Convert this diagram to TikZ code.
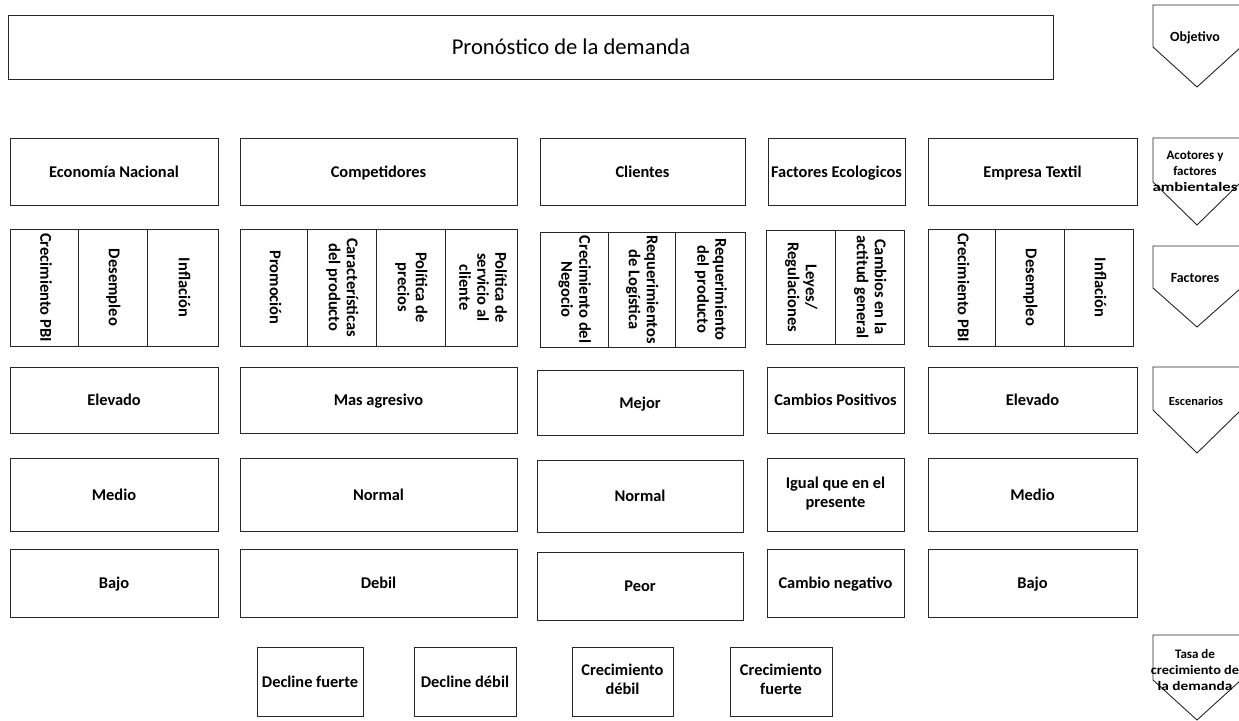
\documentclass[tikz,border=0pt]{standalone}
\usepackage{fontspec}
\setmainfont{Carlito}
\newcommand\rbox[7][hbox]{%
  \pgfmathsetmacro\cx{(#3+#5)/2}\pgfmathsetmacro\cy{(#4+#6)/2}%
  \pgfmathsetmacro\ww{#5-#3}\pgfmathsetmacro\hh{#6-#4}%
  \node[#1,minimum width=\ww pt,minimum height=\hh pt] (#2) at (\cx,\cy) {#7};}
\newcommand\vt[1]{\rotatebox{-90}{\begin{tabular}{@{}c@{}}#1\end{tabular}}}
\newcommand\penta[4]{% name, top, shoulder, tip
  \draw[pent] (1153,#2) -- (1241,#2) -- (1241,#3) -- (1197,#4) -- (1153,#3) -- cycle;}
\newcommand\topstrut{\rule{0pt}{15.5pt}}
\newcommand\botstrut{\rule[-4.5pt]{0pt}{4.5pt}}
\begin{document}
\begin{tikzpicture}[x=1pt,y=-1pt,
  box/.style={draw=black!85,line width=0.9pt,inner sep=0pt,outer sep=0pt,align=center},
  hbox/.style={box,font=\bfseries\fontsize{16.4}{19.5}\selectfont,
    execute at begin node=\topstrut,execute at end node=\botstrut},
  vbox/.style={box,font=\bfseries\fontsize{16.5}{18}\selectfont},
  title/.style={draw=black!85,line width=0.9pt,inner sep=0pt,outer sep=0pt},
  titletext/.style={inner sep=0pt,font=\fontsize{22.6}{26}\selectfont},
  pent/.style={draw=black!85,line width=0.9pt},
  plabel/.style={align=center,inner sep=0pt,font=\bfseries\fontsize{13}{16}\selectfont}]
\useasboundingbox (0,0) rectangle (1239,720);
% objective
\node[title,minimum width=1045pt,minimum height=64pt] (obj) at (530.5,47) {};
\node[titletext] (objt) at (571,49) {\strut Pronóstico de la demanda};
% actors
\rbox{a1}{10}{138}{218}{205}{Economía Nacional}
\rbox{a2}{240}{138}{517}{205}{Competidores}
\rbox{a3}{540}{138}{745}{205}{Clientes}
\rbox{a4}{768}{138}{905}{205}{Factores Ecologicos}
\rbox{a5}{928}{138}{1137}{205}{Empresa Textil}
% factors
\rbox[vbox]{f11}{10}{229}{78}{346}{\vt{Crecimiento PBI}}
\rbox[vbox]{f12}{78}{229}{147}{346}{\vt{Desempleo}}
\rbox[vbox]{f13}{147}{229}{218}{346}{\vt{Inflación}}
\rbox[vbox]{f21}{240}{229}{307}{346}{\vt{Promoción}}
\rbox[vbox]{f22}{307}{229}{376}{346}{\vt{Características\\del producto}}
\rbox[vbox]{f23}{376}{229}{445}{346}{\vt{Política de\\precios}}
\rbox[vbox]{f24}{445}{229}{517}{346}{\vt{Política de\\servicio al\\cliente}}
\rbox[vbox]{f31}{540}{232}{608}{347}{\vt{Crecimiento del\\Negocio}}
\rbox[vbox]{f32}{608}{232}{675}{347}{\vt{Requerimientos\\de Logística}}
\rbox[vbox]{f33}{675}{232}{745}{347}{\vt{Requerimiento\\del producto}}
\rbox[vbox]{f41}{766}{230}{835}{344}{\vt{Leyes/\\Regulaciones}}
\rbox[vbox]{f42}{835}{230}{904}{344}{\vt{Cambios en la\\actitud general}}
\rbox[vbox]{f51}{928}{229}{995}{346}{\vt{Crecimiento PBI}}
\rbox[vbox]{f52}{995}{229}{1064}{346}{\vt{Desempleo}}
\rbox[vbox]{f53}{1064}{229}{1133}{346}{\vt{Inflación}}
% scenarios
\rbox{s11}{10}{367}{218}{433}{Elevado}
\rbox{s12}{10}{458}{218}{531}{Medio}
\rbox{s13}{10}{549}{218}{617}{Bajo}
\rbox{s21}{240}{367}{517}{433}{Mas agresivo}
\rbox{s22}{240}{458}{517}{531}{Normal}
\rbox{s23}{240}{549}{517}{617}{Debil}
\rbox{s31}{537}{370}{743}{435}{Mejor}
\rbox{s32}{537}{460}{743}{532}{Normal}
\rbox{s33}{537}{552}{743}{620}{Peor}
\rbox{s41}{767}{367}{904}{433}{Cambios Positivos}
\rbox{s42}{767}{458}{904}{531}{Igual que en el\\presente}
\rbox{s43}{767}{549}{904}{617}{Cambio negativo}
\rbox{s51}{928}{367}{1137}{433}{Elevado}
\rbox{s52}{928}{458}{1137}{531}{Medio}
\rbox{s53}{928}{549}{1137}{617}{Bajo}
% growth rates
\rbox{g1}{257}{647}{363}{716}{Decline fuerte}
\rbox{g2}{414}{647}{516}{716}{Decline débil}
\rbox{g3}{572}{647}{673}{716}{Crecimiento\\débil}
\rbox{g4}{730}{647}{832}{716}{Crecimiento\\fuerte}
% level markers
\penta{p1}{5}{47}{87}
\node[plabel,font=\bfseries\fontsize{14}{16}\selectfont] (l1) at (1195,38) {Objetivo};
\penta{p2}{138}{182}{225}
\node[plabel] (l2) at (1195,171) {Acotores y\\factores\\\scalebox{1.28}[1]{ambientales}};
\penta{p3}{246}{288}{327}
\node[plabel,font=\bfseries\fontsize{14}{16}\selectfont] (l3) at (1195,278) {Factores};
\penta{p4}{367}{410}{453}
\node[plabel,font=\bfseries\fontsize{12.4}{16}\selectfont] (l4) at (1196,401) {Escenarios};
\penta{p5}{635}{680}{720}
\node[plabel] (l5) at (1195,670) {Tasa de\\\scalebox{1.1}[1]{crecimiento de}\\\scalebox{1.18}[1]{la demanda}};
\end{tikzpicture}
\end{document}
